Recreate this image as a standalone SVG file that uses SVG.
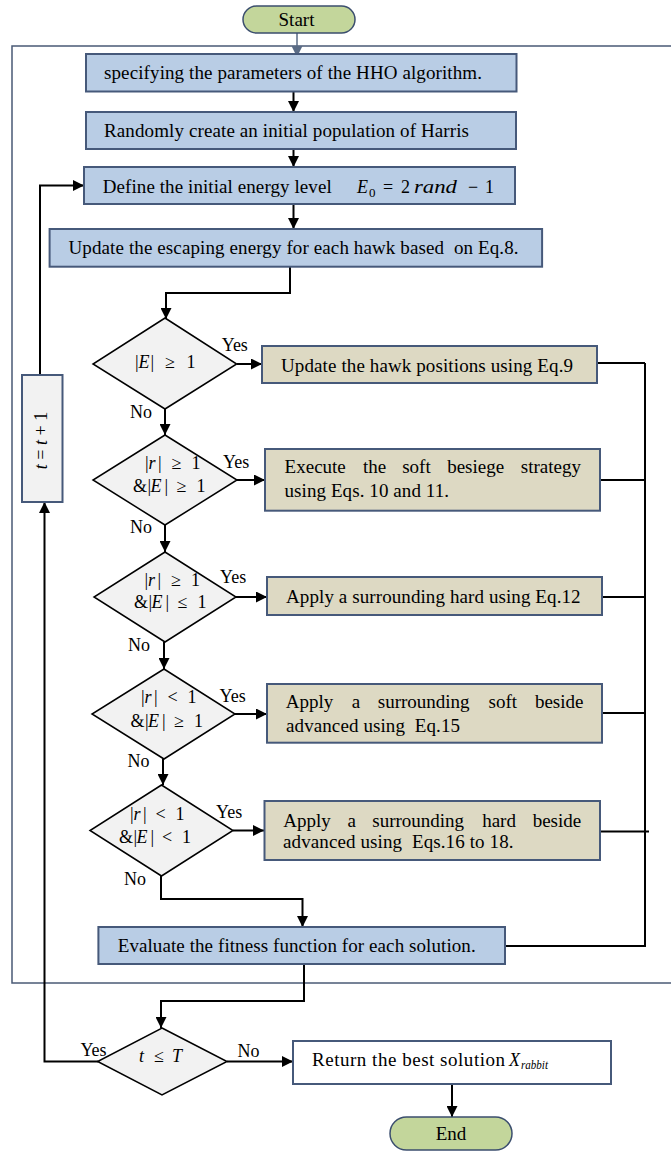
<svg xmlns="http://www.w3.org/2000/svg" width="671" height="1152" viewBox="0 0 671 1152">
<style>
.t{font-family:"Liberation Serif","Times New Roman",serif;font-size:19px;fill:#000;white-space:pre}
.m{font-family:"Liberation Serif","DejaVu Serif",serif;font-size:18px;fill:#000}
.i{font-style:italic}
.lb{font-family:"Liberation Serif",serif;font-size:18px;fill:#000}
.blue{fill:#b9cde5;stroke:#46597a;stroke-width:2}
.tan{fill:#ddd9c3;stroke:#46597a;stroke-width:2}
.dia{fill:#f2f2f2;stroke:#000;stroke-width:1.5}
.term{fill:#c3d69b;stroke:#3b4e6e;stroke-width:1.5}
.c{fill:none;stroke:#000;stroke-width:2}
</style>
<defs>
<marker id="a" markerUnits="userSpaceOnUse" markerWidth="11" markerHeight="11" refX="11" refY="5.5" orient="auto"><path d="M0,0 L11,5.5 L0,11 z" fill="#000"/></marker>
<marker id="ag" markerUnits="userSpaceOnUse" markerWidth="11" markerHeight="11" refX="11" refY="5.5" orient="auto"><path d="M0,0 L11,5.5 L0,11 z" fill="#5a6b85"/></marker>
</defs>
<rect id="frame" x="12" y="46" width="680" height="937" fill="none" stroke="#4a5a75" stroke-width="1.5"/>
<g id="connectors">
<path d="M297,33 V57" fill="none" stroke="#5a6b85" stroke-width="1.5" marker-end="url(#ag)"/>
<path class="c" d="M293.5,92 V112" marker-end="url(#a)"/>
<path class="c" d="M293.5,149 V167" marker-end="url(#a)"/>
<path class="c" d="M293.5,204 V229" marker-end="url(#a)"/>
<path class="c" d="M290,267 V293 H166 V319" marker-end="url(#a)"/>
<path class="c" d="M237,364 H262" marker-end="url(#a)"/>
<path class="c" d="M165,409 V435" marker-end="url(#a)"/>
<path class="c" d="M237,480 H265" marker-end="url(#a)"/>
<path class="c" d="M165,525 V552" marker-end="url(#a)"/>
<path class="c" d="M236,597 H267" marker-end="url(#a)"/>
<path class="c" d="M164,642 V669" marker-end="url(#a)"/>
<path class="c" d="M235,714 H267" marker-end="url(#a)"/>
<path class="c" d="M163,759 V785" marker-end="url(#a)"/>
<path class="c" d="M233,830.5 H264" marker-end="url(#a)"/>
<path class="c" d="M161,876 V899 H302.5 V927" marker-end="url(#a)"/>
<path class="c" d="M597,363 H645 M600,480 H645 M602,597 H645 M602,713 H645 M600,831.5 H649 M645,363 V946 H505"/>
<path class="c" d="M304,964 V1001 H161 V1028" marker-end="url(#a)"/>
<path class="c" d="M227,1061.5 H293" marker-end="url(#a)"/>
<path class="c" d="M98,1061.5 H44.5 V502" marker-end="url(#a)"/>
<path class="c" d="M40,375 V185.5 H84" marker-end="url(#a)"/>
<path class="c" d="M452,1084 V1117" marker-end="url(#a)"/>
</g>
<g id="start"><rect class="term" x="243" y="6" width="112" height="27" rx="13.5"/><text class="t" x="296.5" y="26" text-anchor="middle">Start</text></g>
<g id="box1"><rect class="blue" x="86" y="54" width="430.5" height="37.5"/><text class="t" x="104" y="79.3" textLength="378">specifying the parameters of the HHO algorithm.</text></g>
<g id="box2"><rect class="blue" x="86" y="112" width="430" height="37"/><text class="t" x="104" y="137.3" textLength="365">Randomly create an initial population of Harris</text></g>
<g id="box3"><rect class="blue" x="84" y="167" width="431" height="37"/><text class="t" x="102.7" y="192.7" textLength="229">Define the initial energy level</text>
<text class="m" y="192.7"><tspan x="357" class="i">E</tspan><tspan x="369" y="197" font-size="13">0</tspan><tspan x="383" y="192.7">=</tspan><tspan x="401">2</tspan><tspan x="414" class="i" textLength="43" lengthAdjust="spacingAndGlyphs">rand</tspan><tspan x="468">−</tspan><tspan x="485">1</tspan></text></g>
<g id="box4"><rect class="blue" x="49.6" y="229" width="492.5" height="37.7"/><text class="t" x="68.5" y="254.3" textLength="450">Update the escaping energy for each hawk based  on Eq.8.</text></g>
<g id="d1"><polygon class="dia" points="165,318 236.7,364 165,409 93,364"/>
<text class="m" y="368"><tspan x="135">|</tspan><tspan x="138.5" class="i">E</tspan><tspan x="150.5">|</tspan><tspan x="165">≥</tspan><tspan x="186.5">1</tspan></text>
<text class="lb" x="221.7" y="350.7">Yes</text><text class="lb" x="130" y="418.3">No</text></g>
<g id="box5"><rect class="tan" x="262" y="346" width="335" height="37"/><text class="t" x="281" y="371.7" textLength="292">Update the hawk positions using Eq.9</text></g>
<g id="d2"><polygon class="dia" points="165,435 237,480 165,525 93,480"/>
<text class="m" y="469.3"><tspan x="145">|</tspan><tspan x="148.5" class="i">r</tspan><tspan x="158">|</tspan><tspan x="171.5">≥</tspan><tspan x="191.5">1</tspan></text>
<text class="m" y="491.7"><tspan x="133">&amp;</tspan><tspan x="147.5">|</tspan><tspan x="150.5" class="i">E</tspan><tspan x="164.5">|</tspan><tspan x="176.5">≥</tspan><tspan x="196.5">1</tspan></text>
<text class="lb" x="223" y="467.7">Yes</text><text class="lb" x="130" y="532.7">No</text></g>
<g id="box6"><rect class="tan" x="265" y="449" width="335" height="61.7"/>
<text class="t" y="473.3"><tspan x="284.6">Execute</tspan><tspan x="362.9">the</tspan><tspan x="402.2">soft</tspan><tspan x="447.2">besiege</tspan><tspan x="520.8">strategy</tspan></text>
<text class="t" x="284.5" y="497.3" textLength="164.5">using Eqs. 10 and 11.</text></g>
<g id="d3"><polygon class="dia" points="165,552 236,597 165,642 94,597"/>
<text class="m" y="585.7"><tspan x="144.6">|</tspan><tspan x="148.1" class="i">r</tspan><tspan x="157.6">|</tspan><tspan x="171.1">≥</tspan><tspan x="191.1">1</tspan></text>
<text class="m" y="608"><tspan x="134">&amp;</tspan><tspan x="148.5">|</tspan><tspan x="151.5" class="i">E</tspan><tspan x="165.5">|</tspan><tspan x="177.5">≤</tspan><tspan x="197.5">1</tspan></text>
<text class="lb" x="220" y="583">Yes</text><text class="lb" x="128" y="650.7">No</text></g>
<g id="box7"><rect class="tan" x="267" y="577" width="335" height="38"/><text class="t" x="286" y="603" textLength="294.6">Apply a surrounding hard using Eq.12</text></g>
<g id="d4"><polygon class="dia" points="164,669 235,714 164,759 92,714"/>
<text class="m" y="703.3"><tspan x="141">|</tspan><tspan x="144.5" class="i">r</tspan><tspan x="154">|</tspan><tspan x="167.5">&lt;</tspan><tspan x="187.5">1</tspan></text>
<text class="m" y="727.3"><tspan x="130.6">&amp;</tspan><tspan x="145.1">|</tspan><tspan x="148.1" class="i">E</tspan><tspan x="162.1">|</tspan><tspan x="174.1">≥</tspan><tspan x="194.1">1</tspan></text>
<text class="lb" x="219.5" y="701.7">Yes</text><text class="lb" x="127.5" y="767.3">No</text></g>
<g id="box8"><rect class="tan" x="267" y="684" width="335" height="58.7"/>
<text class="t" y="708.3"><tspan x="285.8">Apply</tspan><tspan x="351.7">a</tspan><tspan x="377.8">surrounding</tspan><tspan x="488.6">soft</tspan><tspan x="534.9">beside</tspan></text>
<text class="t" x="286" y="731.7" textLength="174">advanced using  Eq.15</text></g>
<g id="d5"><polygon class="dia" points="161.5,785 233,830.5 161.5,876 90,830.5"/>
<text class="m" y="820"><tspan x="130">|</tspan><tspan x="133.5" class="i">r</tspan><tspan x="143">|</tspan><tspan x="155.5">&lt;</tspan><tspan x="175.5">1</tspan></text>
<text class="m" y="843"><tspan x="119">&amp;</tspan><tspan x="133.5">|</tspan><tspan x="136.5" class="i">E</tspan><tspan x="150.5">|</tspan><tspan x="162">&lt;</tspan><tspan x="182">1</tspan></text>
<text class="lb" x="216" y="818.3">Yes</text><text class="lb" x="124" y="885">No</text></g>
<g id="box9"><rect class="tan" x="264.5" y="801" width="335.5" height="59"/>
<text class="t" y="826.7"><tspan x="283.3">Apply</tspan><tspan x="347.5">a</tspan><tspan x="372.3">surrounding</tspan><tspan x="482.2">hard</tspan><tspan x="532.7">beside</tspan></text>
<text class="t" x="283" y="848.3" textLength="230.5">advanced using  Eqs.16 to 18.</text></g>
<g id="eval"><rect class="blue" x="98.4" y="927" width="406.6" height="37"/><text class="t" x="117.7" y="951.7" textLength="358">Evaluate the fitness function for each solution.</text></g>
<g id="tbox"><rect x="22" y="375" width="40.5" height="127" fill="#f2f2f2" stroke="#46597a" stroke-width="2"/>
<text class="m" transform="translate(46.5,440.5) rotate(-90)" text-anchor="middle"><tspan class="i">t</tspan> = <tspan class="i">t</tspan> + 1</text></g>
<g id="d6"><polygon class="dia" points="162,1028 227,1061.5 162,1095 97.6,1061.5"/>
<text class="m" y="1061.7"><tspan x="139" class="i">t</tspan><tspan x="154">≤</tspan><tspan x="172" class="i">T</tspan></text>
<text class="lb" x="80.4" y="1056">Yes</text><text class="lb" x="237.5" y="1056.7">No</text></g>
<g id="return"><rect x="293" y="1041" width="318" height="43" fill="#fff" stroke="#46597a" stroke-width="2"/>
<text class="t" x="312" y="1065.5" textLength="193">Return the best solution</text>
<text class="m" y="1065.5"><tspan x="509" class="i">X</tspan><tspan x="521" y="1069" class="i" font-size="12" textLength="27" lengthAdjust="spacingAndGlyphs">rabbit</tspan></text></g>
<g id="end"><rect class="term" x="390" y="1117" width="122" height="33" rx="16.5"/><text class="t" x="451" y="1140" text-anchor="middle">End</text></g>
</svg>
